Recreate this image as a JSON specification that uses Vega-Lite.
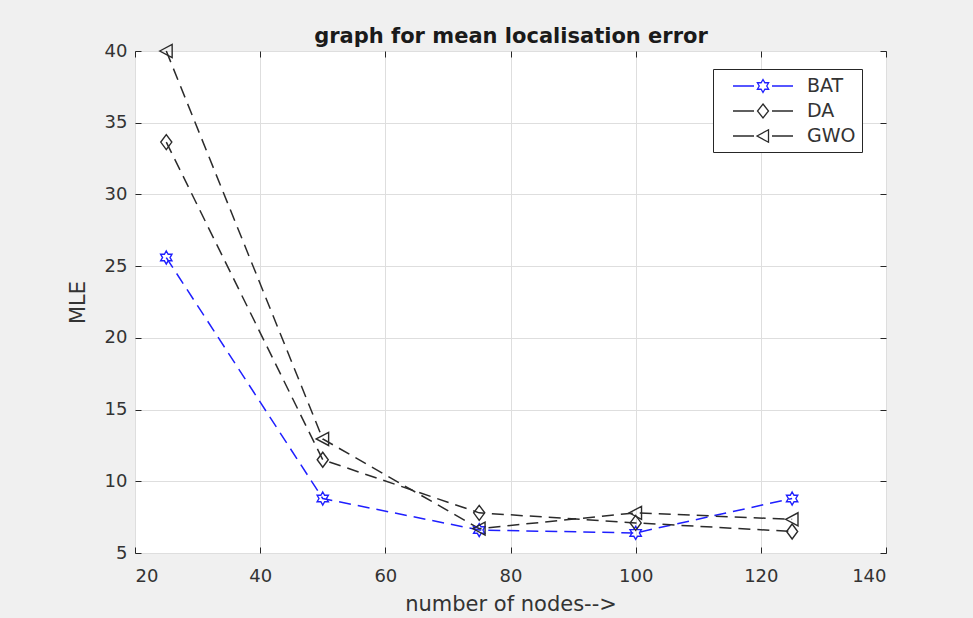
{
  "$schema": "https://vega.github.io/schema/vega-lite/v6.json",
  "width": 751,
  "height": 502,
  "autosize": {"type": "none"},
  "padding": {"left": 135, "top": 51, "right": 87, "bottom": 65},
  "background": "#f0f0f0",
  "config": {
    "font": "DejaVu Sans",
    "view": {"fill": "white", "stroke": "#262626", "strokeWidth": 1}
  },
  "data": {
    "values": [
      {"nodes": 25, "mle": 25.6, "algo": "BAT"},
      {"nodes": 50, "mle": 8.8, "algo": "BAT"},
      {"nodes": 75, "mle": 6.6, "algo": "BAT"},
      {"nodes": 100, "mle": 6.4, "algo": "BAT"},
      {"nodes": 125, "mle": 8.8, "algo": "BAT"},
      {"nodes": 25, "mle": 33.65, "algo": "DA"},
      {"nodes": 50, "mle": 11.5, "algo": "DA"},
      {"nodes": 75, "mle": 7.8, "algo": "DA"},
      {"nodes": 100, "mle": 7.1, "algo": "DA"},
      {"nodes": 125, "mle": 6.5, "algo": "DA"},
      {"nodes": 25, "mle": 40, "algo": "GWO"},
      {"nodes": 50, "mle": 12.95, "algo": "GWO"},
      {"nodes": 75, "mle": 6.7, "algo": "GWO"},
      {"nodes": 100, "mle": 7.8, "algo": "GWO"},
      {"nodes": 125, "mle": 7.35, "algo": "GWO"}
    ]
  },
  "layer": [
    {
      "mark": {"type": "point", "opacity": 0},
      "encoding": {
        "x": {
          "field": "nodes", "type": "quantitative",
          "scale": {"domain": [20, 140], "nice": false, "zero": false},
          "axis": {"orient": "top", "title": "graph for mean localisation error",
                   "titleFontSize": 21, "titleFontWeight": "bold", "titleColor": "#1a1a1a", "titlePadding": 4,
                   "labels": false, "grid": false, "domain": false,
                   "values": [20, 40, 60, 80, 100, 120, 140], "tickSize": -6, "tickColor": "#262626"}
        },
        "y": {
          "field": "mle", "type": "quantitative",
          "scale": {"domain": [5, 40], "nice": false, "zero": false},
          "axis": {"orient": "right", "title": null, "labels": false, "grid": false, "domain": false,
                   "values": [5, 10, 15, 20, 25, 30, 35, 40], "tickSize": -6, "tickColor": "#262626"}
        }
      }
    },
    {
      "mark": {"type": "line", "strokeDash": [12, 7], "strokeWidth": 1.5},
      "encoding": {
        "x": {
          "field": "nodes", "type": "quantitative",
          "axis": {
            "orient": "bottom",
            "title": "number of nodes-->",
            "values": [20, 40, 60, 80, 100, 120, 140],
            "grid": true, "gridColor": "#dedede", "gridWidth": 1,
            "domain": false,
            "tickSize": -6, "tickColor": "#262626",
            "labelFontSize": 18, "labelColor": "#333333", "labelPadding": 20,
            "titleFontSize": 21, "titleFontWeight": "normal", "titleColor": "#333333", "titlePadding": 8
          }
        },
        "y": {
          "field": "mle", "type": "quantitative",
          "axis": {
            "orient": "left",
            "title": "MLE",
            "values": [5, 10, 15, 20, 25, 30, 35, 40],
            "grid": true, "gridColor": "#dedede", "gridWidth": 1,
            "domain": false,
            "tickSize": -6, "tickColor": "#262626",
            "labelFontSize": 18, "labelColor": "#333333", "labelPadding": 14,
            "titleFontSize": 21, "titleFontWeight": "normal", "titleColor": "#333333", "titlePadding": 16
          }
        },
        "color": {
          "field": "algo", "type": "nominal",
          "scale": {"domain": ["BAT", "DA", "GWO"], "range": ["#1f1fff", "#2b2b2b", "#2b2b2b"]},
          "legend": null
        },
        "detail": {"field": "algo"}
      }
    },
    {
      "mark": {"type": "point", "filled": false, "size": 170, "strokeWidth": 1.4, "opacity": 1},
      "encoding": {
        "x": {"field": "nodes", "type": "quantitative", "axis": null},
        "y": {"field": "mle", "type": "quantitative", "axis": null},
        "color": {"field": "algo", "type": "nominal", "legend": null},
        "shape": {
          "field": "algo", "type": "nominal",
          "legend": null,
          "scale": {
            "domain": ["BAT", "DA", "GWO"],
            "range": [
              "M0,-1L0.289,-0.5L0.866,-0.5L0.577,0L0.866,0.5L0.289,0.5L0,1L-0.289,0.5L-0.866,0.5L-0.577,0L-0.866,-0.5L-0.289,-0.5Z",
              "M0,-1.15L0.85,0L0,1.15L-0.85,0Z",
              "M-1,0L0.9,-1L0.9,1Z"
            ]
          }
        }
      }
    },
    {
      "mark": {"type": "point", "filled": false, "size": 0, "strokeWidth": 1.3, "opacity": 1},
      "encoding": {
        "x": {"field": "nodes", "type": "quantitative", "axis": null},
        "y": {"field": "mle", "type": "quantitative", "axis": null},
        "shape": {
          "field": "algo", "type": "nominal",
          "scale": {
            "domain": ["BAT", "DA", "GWO"],
            "range": [
              "M-1,0L1.1,0M2.9,0L5,0M2,-0.65L2.188,-0.325L2.563,-0.325L2.375,0L2.563,0.325L2.188,0.325L2,0.65L1.812,0.325L1.437,0.325L1.625,0L1.437,-0.325L1.812,-0.325Z",
              "M-1,0L1.1,0M2.9,0L5,0M2,-0.7L2.55,0L2,0.7L1.45,0Z",
              "M-1,0L1.1,0M2.9,0L5,0M1.4,0L2.55,-0.62L2.55,0.62Z"
            ]
          },
          "legend": {
            "title": null, "orient": "none", "legendX": 578, "legendY": 18,
            "fillColor": "white", "strokeColor": "#262626", "padding": 6, "cornerRadius": 0,
            "symbolSize": 400, "symbolOffset": 13, "symbolStrokeWidth": 1.3,
            "symbolStrokeColor": {"expr": "datum.value === 'BAT' ? '#1f1fff' : '#2b2b2b'"},
            "symbolFillColor": "transparent",
            "symbolOpacity": 1,
            "labelOffset": 53, "labelFontSize": 19, "labelColor": "#333333", "rowPadding": 4
          }
        }
      }
    }
  ],
  "resolve": {"axis": {"x": "independent", "y": "independent"}, "scale": {"shape": "independent"}}
}
